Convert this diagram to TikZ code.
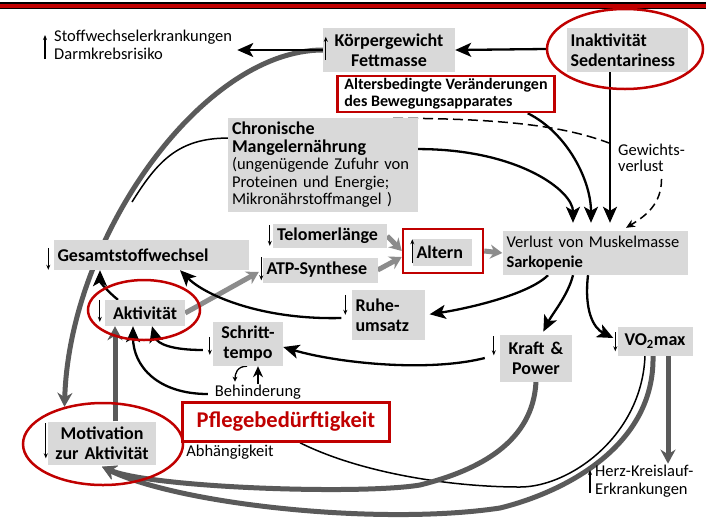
\documentclass[tikz,border=0pt]{standalone}
\usepackage{fontspec}
\setmainfont{Carlito}
\usetikzlibrary{arrows.meta,shapes.geometric,backgrounds}

\definecolor{pflegered}{HTML}{C00000}
\definecolor{boxgray}{HTML}{D9D9D9}
\definecolor{linegray}{HTML}{5A5A5A}
\definecolor{lightline}{HTML}{8C8C8C}

\begin{document}
\begin{tikzpicture}[x=1pt,y=-1pt,->,>={Stealth[length=16pt,width=14pt,inset=4pt]},
    box/.style={fill=boxgray,inner sep=4pt,align=left,font=\bfseries\fontsize{18}{20}\selectfont},
    plaintext/.style={inner sep=1pt,align=left,font=\fontsize{16.5}{18}\selectfont},
    redbox/.style={draw=pflegered,line width=2.5pt,fill=white},
    ring/.style={draw=pflegered,line width=2.5pt,ellipse,inner sep=0pt},
    blk/.style={draw=black,line width=2.3pt},
    fatline/.style={draw=linegray,line width=5pt,-{Stealth[length=14pt,width=15pt]}},
    greyarrow/.style={draw=lightline,line width=5pt,-{Stealth[length=12pt,width=14pt]}},
    lessmark/.style={line width=1.1pt,-{Stealth[length=5pt,width=4pt]}}]

  \useasboundingbox (0,0) rectangle (706,520);
  \fill[black] (0,2) rectangle (706,9);
  \fill[pflegered] (0,3.5) rectangle (706,7.5);

  % top row
  \node[plaintext,anchor=north west] (stoff) at (53,29) {Stoffwechselerkrankungen\\Darmkrebsrisiko};
  \node[box,align=center,text width=124pt,minimum height=44pt] (kg) at (389,50) {Körpergewicht\\Fettmasse};
  \node[box,text width=113pt,minimum height=44pt] (inakt) at (627,50) {Inaktivität\\Sedentariness};
  \node[ring,minimum width=156pt,minimum height=80pt] (inakring) at (625,49) {};
  \node[redbox,font=\bfseries\fontsize{16}{17}\selectfont,align=left,inner sep=2pt,
        minimum width=217pt,minimum height=36pt] (alters) at (446,94) {Altersbedingte Veränderungen\\des Bewegungsapparates};
  \node[box,font=\fontsize{16.5}{17.5}\selectfont,text width=182pt,minimum height=90pt] (chron) at (323,165)
    {{\bfseries\fontsize{18}{17.5}\selectfont Chronische}\\{\bfseries\fontsize{18}{17.5}\selectfont Mangelernährung}\\(ungenügende Zufuhr von\\Proteinen und Energie;\\Mikronährstoffmangel )};
  \node[plaintext,font=\fontsize{16.5}{16}\selectfont,anchor=north west] (gew) at (617,143) {Gewichts-\\verlust};

  % middle row
  \node[box,text width=187pt,minimum height=30pt] (gs) at (151,255) {Gesamtstoffwechsel};
  \node[box,text width=106pt,minimum height=24pt] (telo) at (330,236) {Telomerlänge};
  \node[box,text width=107pt,minimum height=25pt] (atp) at (320,270) {ATP-Synthese};
  \node[draw=pflegered,line width=2.5pt,minimum width=80pt,minimum height=44pt] (altframe) at (443,251) {};
  \node[box,text width=51pt,minimum height=27pt] (alt) at (442,252) {Altern};
  \node[box,font=\fontsize{16.5}{20}\selectfont,text width=177pt,minimum height=44pt] (sark) at (595,253)
    {Verlust von Muskelmasse\\\textbf{Sarkopenie}};

  \node[box,align=center,text width=72pt,minimum height=26pt] (akt) at (145,313) {Aktivität};
  \node[ring,minimum width=112pt,minimum height=60pt] (aktring) at (144,310) {};
  \node[box,text width=65pt,minimum height=50pt] (ruhe) at (388,315) {Ruhe-\\umsatz};
  \node[box,align=center,text width=62pt,minimum height=44pt] (schritt) at (248,344) {Schritt-\\tempo};
  \node[box,align=center,text width=64pt,minimum height=47pt] (kraft) at (536,358) {Kraft \&\\Power};
  \node[box,align=center,text width=67pt,minimum height=29pt] (vo2) at (655,341) {VO\textsubscript{2}max};

  % bottom row
  \node[plaintext] (behind) at (258,392) {Behinderung};
  \node[redbox,text=pflegered,font=\bfseries\fontsize{22.5}{24}\selectfont,
        minimum width=207pt,minimum height=39pt] (pflege) at (286,422) {Pflegebedürftigkeit};
  \node[plaintext] (abh) at (230,452) {Abhängigkeit};
  \node[box,align=center,text width=100pt,minimum height=43pt] (mot) at (102,443) {Motivation\\zur Aktivität};
  \node[ring,minimum width=160pt,minimum height=82pt] (motring) at (103,444) {};
  \node[plaintext,anchor=west] (herz) at (594,481) {Herz-Kreislauf-\\Erkrankungen};

  % small up / down marks
  \draw[lessmark] ([xshift=-8pt,yshift=-30pt]stoff.north west) -- ++(0,-24);
  \draw[lessmark] ([xshift=3pt,yshift=-32pt]kg.north west) -- ++(0,-23);
  \draw[lessmark] ([xshift=-5pt,yshift=-8pt]gs.north west) -- ++(0,22);
  \draw[lessmark] ([xshift=-3pt,yshift=-1pt]telo.north west) -- ++(0,21);
  \draw[lessmark] ([xshift=-1pt]atp.north west) -- ++(0,23);
  \draw[lessmark] ([xshift=0pt,yshift=-25pt]alt.north west) -- ++(0,-24);
  \draw[lessmark] ([xshift=-5pt]akt.north west) -- ++(0,22);
  \draw[lessmark] ([xshift=-6pt,yshift=-5pt]ruhe.north west) -- ++(0,20);
  \draw[lessmark] ([xshift=-3pt,yshift=-15pt]schritt.north west) -- ++(0,18);
  \draw[lessmark] ([xshift=-6pt,yshift=-2pt]kraft.north west) -- ++(0,19);
  \draw[lessmark] ([xshift=-2pt,yshift=-6pt]vo2.north west) -- ++(0,19);
  \draw[lessmark] ([xshift=-4pt,yshift=-12pt]herz.west) -- ++(0,-23);
  \draw[lessmark] ([xshift=-2pt,yshift=-2pt]mot.north west) -- ++(0,35);

  \begin{pgfonlayer}{background}
  % top connectors
  \draw[fatline] (kg.west) .. controls +(-120,0) and +(5,-170) .. (motring.136);
  \draw[blk] (inakring.west) -- (kg.east);
  \draw[blk,shorten >=4pt] (kg.west) -- (kg.west -| stoff.east);
  \draw[-,line width=1.5pt] ([yshift=-20pt]chron.north west) .. controls +(-50,0) and +(25,-40) .. (132,202);
  \draw[-,line width=1.5pt,dash pattern=on 10pt off 5pt] ([xshift=-53pt,yshift=-5pt]alters.south)
    .. controls +(120,0) and +(-40,-15) .. ([xshift=-8pt]gew.north west);
  \draw[line width=1.5pt,dash pattern=on 8pt off 5pt,-{Stealth[length=9pt,width=8pt]}] ([xshift=10pt,yshift=-6pt]gew.south)
    .. controls +(0,25) and +(20,-12) .. ([xshift=31pt,yshift=3pt]sark.north);

  % into Sarkopenie
  \draw[blk,shorten >=8pt] ([yshift=-31pt]chron.north east) .. controls +(100,0) and +(0,-40) .. ([xshift=-22pt]sark.north);
  \draw[blk,shorten >=8pt] ([xshift=-28pt]alters.south east) .. controls +(40,20) and +(0,-50) .. ([xshift=-4pt]sark.north);
  \draw[blk,shorten >=8pt] ([xshift=-17pt]inakt.south) -- ([xshift=15pt]sark.north);

  % ageing
  \draw[greyarrow] (telo.east) -- (altframe.west);
  \draw[greyarrow] (atp.east) -- ([yshift=-6pt]altframe.west);
  \draw[greyarrow] (altframe.east) -- (sark.west);
  \draw[greyarrow,shorten >=4pt] (akt.east) -- (atp.west);

  % around Aktivitaet
  \draw[blk] ([xshift=-27pt]akt.north) .. controls +(-10,-8) and +(0,12) .. ([xshift=-51pt]gs.south);
  \draw[blk] ([xshift=-10pt,yshift=-3pt]ruhe.west) .. controls +(-80,2) and +(25,25) .. ([xshift=29pt]gs.south);
  \draw[blk] ([xshift=-10pt,yshift=-6pt]schritt.west) .. controls +(-30,0) and +(5,18) .. ([xshift=7pt]akt.south);
  \draw[blk] ([xshift=-6pt,yshift=-2pt]behind.west) .. controls +(-50,0) and +(0,40) .. ([xshift=-12pt]akt.south);
  \draw[blk,line width=1.8pt,-{Stealth[length=11pt,width=10pt]}] (behind.north) -- (behind.north |- schritt.south);
  \draw[line width=1.3pt,-{Stealth[length=5pt,width=5pt]}] ([xshift=-1pt]schritt.south)
    .. controls +(-10,0) and +(0,-8) .. ([xshift=-23pt,yshift=2pt]behind.north);

  % from Sarkopenie
  \draw[blk,shorten >=5pt] ([xshift=-47pt]sark.south) .. controls +(-20,20) and +(40,-6) .. (ruhe.east);
  \draw[blk,shorten >=3pt] ([xshift=-22pt]sark.south) .. controls +(-5,20) and +(10,-20) .. ([xshift=6pt]kraft.north);
  \draw[blk] ([xshift=-7pt]sark.south) .. controls +(-4,35) and +(-20,-10) .. ([xshift=-4pt,yshift=3pt]vo2.west);
  \draw[fatline] ([xshift=13pt]vo2.south) -- ([xshift=13pt]vo2.south |- herz.north);
  \draw[blk] ([xshift=-15pt]kraft.west) .. controls +(-60,15) and +(50,15) .. ([yshift=-3pt]schritt.east);

  % back to Motivation
  \draw[fatline] ([xshift=13pt]mot.north) -- ([xshift=-30pt]akt.south);
  \draw[-,line width=1.5pt] ([xshift=-10pt]vo2.south) .. controls +(-3,80) and +(50,0) .. (520,487)
    .. controls +(-70,0) and +(60,30) .. ([xshift=14pt]pflege.south);
  \draw[fatline] (kraft.south) .. controls +(-3,60) and +(60,-15) .. (420,485)
    .. controls +(-60,10) and +(48,21) .. ([yshift=-2pt]mot.south);
  \draw[fatline] ([xshift=-2pt]vo2.south) .. controls +(2,90) and +(65,-16) .. (500,508)
    .. controls +(-120,18) and +(78,38) .. ([yshift=-2pt]mot.south);
  \end{pgfonlayer}
\end{tikzpicture}
\end{document}
